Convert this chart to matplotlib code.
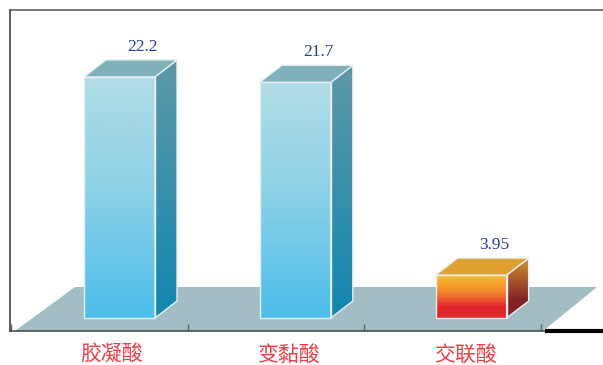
import numpy as np
import matplotlib
matplotlib.use("Agg")
import matplotlib.pyplot as plt
from matplotlib.colors import LinearSegmentedColormap
from matplotlib.patches import Polygon

categories = ["胶凝酸", "变黏酸", "交联酸"]
values = [22.2, 21.7, 3.95]
value_labels = ["22.2", "21.7", "3.95"]

W, H = 603, 365
STEP = 176.7  # pixels per category
SCALE = 10.86  # pixels per unit of value
BAR_W = 71 / STEP
BAR_X = 73 / STEP  # left edge of a bar inside its category
DX = 22 / STEP
DY = 17 / SCALE
XMIN = -1.2 / STEP
XMAX = (W - 11) / STEP
YMIN = -13 / SCALE
YMAX = 308 / SCALE

blue = {
    "front": [(0.0, "#b2dde6"), (0.45, "#8fd2e6"), (1.0, "#4cbeec")],
    "side": [(0.0, "#5f98a8"), (1.0, "#1187b0")],
    "top": "#80b0ba",
}
orange = {
    "front": [(0.0, "#fbbf2c"), (0.4, "#f2862e"), (0.75, "#e1232a"), (1.0, "#de2a2e")],
    "side": [(0.0, "#cf9432"), (0.7, "#842025"), (1.0, "#8c2428")],
    "top": "#dfa030",
}
styles = [blue, blue, orange]
edge = "#e4f0f2"


def gradient_face(ax, pts, stops):
    # vertical gradient clipped to the face outline
    pts = np.array(pts)
    cmap = LinearSegmentedColormap.from_list("face", stops)
    extent = [pts[:, 0].min(), pts[:, 0].max(), pts[:, 1].min(), pts[:, 1].max()]
    im = ax.imshow(np.linspace(0, 1, 256).reshape(-1, 1), cmap=cmap, extent=extent,
                   origin="upper", aspect="auto", zorder=3, interpolation="bilinear")
    outline = Polygon(pts, closed=True, facecolor="none", edgecolor=edge, lw=1.0, zorder=4)
    ax.add_patch(outline)
    im.set_clip_path(outline)


fig = plt.figure(figsize=(W / 100, H / 100), dpi=100)
ax = fig.add_axes([9.8 / W, (H - 331) / H, (W - 9.8) / W, 321 / H])

# floor
floor = [(4 / STEP, YMIN), (64 / STEP, 31 / SCALE),
         (586 / STEP, 31 / SCALE), (532 / STEP, YMIN)]
ax.add_patch(Polygon(floor, closed=True, facecolor="#a2bdc3", edgecolor="none", zorder=1))

for i, (v, label, st) in enumerate(zip(values, value_labels, styles)):
    x0 = i + BAR_X - 0.005 * i
    x1 = x0 + BAR_W
    gradient_face(ax, [(x1, 0), (x1 + DX, DY), (x1 + DX, v + DY), (x1, v)], st["side"])
    gradient_face(ax, [(x0, 0), (x1, 0), (x1, v), (x0, v)], st["front"])
    ax.add_patch(Polygon([(x0, v), (x1, v), (x1 + DX, v + DY), (x0 + DX, v + DY)], closed=True,
                         facecolor=st["top"], edgecolor=edge, lw=1.0, zorder=4))
    ax.text(x0 + 0.5 * BAR_W + 23 / STEP, v + DY + 5 / SCALE, label, ha="center", va="bottom",
            family="Liberation Serif", fontsize=12.5, color="#2b3a94")

ax.set_xlim(XMIN, XMAX)
ax.set_ylim(YMIN, YMAX)

ax.set_xticks([0, 1, 2, 3])
ax.set_xticklabels([])
ax.set_yticks([])
ax.tick_params(axis="x", direction="in", length=5, width=1, color="#666666")
for i, name in enumerate(categories):
    ax.text(i + 0.572, -37 / SCALE, name, ha="center", va="center",
            family=["Noto Sans CJK SC", "DejaVu Sans"], fontsize=15, color="#ee3f48",
            clip_on=False)

ax.spines["right"].set_visible(False)
ax.spines["top"].set_color("#555555")
ax.spines["left"].set_color("#333333")
ax.spines["bottom"].set_color("#444444")
for s in ax.spines.values():
    s.set_linewidth(1.1)
    s.set_zorder(5)

# heavy stretch of the baseline past the last tick
ax.plot([3.02, XMAX], [YMIN, YMIN], color="black", lw=3,
        clip_on=False, solid_capstyle="butt", zorder=6)

fig.savefig("out.png", dpi=100)
